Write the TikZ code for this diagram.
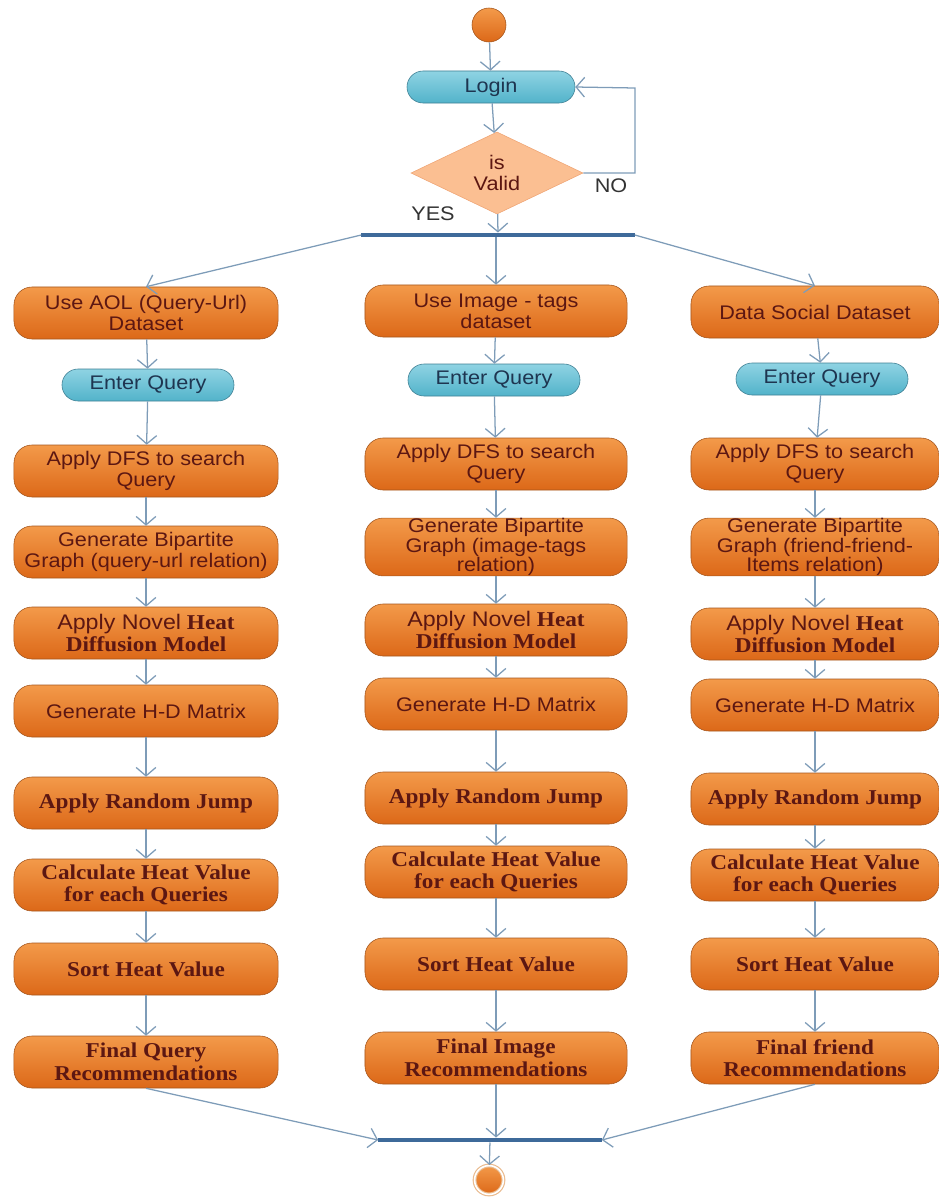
\documentclass[tikz,border=0pt]{standalone}
\usepackage{fontspec}
\setmainfont[FakeStretch=1.1]{Liberation Serif}
\setsansfont[FakeStretch=1.1]{Liberation Sans}
\usepackage{xcolor}
\usetikzlibrary{shapes.geometric, arrows.meta}

\definecolor{orgtop}{HTML}{F39A4A}
\definecolor{orgbot}{HTML}{DC6818}
\definecolor{orgline}{HTML}{A4561E}
\definecolor{orgtext}{HTML}{5C1712}
\definecolor{blutop}{HTML}{8FD3E3}
\definecolor{blubot}{HTML}{52B3CA}
\definecolor{bluline}{HTML}{3F7F93}
\definecolor{blutext}{HTML}{1E3550}
\definecolor{decfill}{HTML}{FBBF92}
\definecolor{decline}{HTML}{EFA575}
\definecolor{flow}{HTML}{7E9CB8}
\definecolor{barcol}{HTML}{3E6A9A}
\definecolor{ringcol}{HTML}{E9B98C}

\newcommand{\sansf}{\sffamily\fontsize{14}{15}\selectfont}
\newcommand{\serf}{\rmfamily\bfseries\fontsize{15}{16}\selectfont}

\begin{document}
\begin{tikzpicture}[x=0.025cm, y=-0.025cm, ->, >={Straight Barb[length=6pt, width=14pt]},
    every edge/.style={draw=flow, line width=0.9pt},
    act/.style={rounded corners=0.45cm, draw=orgline, top color=orgtop, bottom color=orgbot, minimum height=1.3cm, align=center, text=orgtext, font=\sansf, inner sep=1pt},
    acts/.style={act, font=\serf},
    act3/.style={act, font=\sffamily\fontsize{14}{12.5}\selectfont, inner ysep=0pt},
    inp/.style={rounded corners=0.4cm, draw=bluline, top color=blutop, bottom color=blubot, minimum width=4.3cm, minimum height=0.8cm, text=blutext, font=\sansf},
    dec/.style={diamond, draw=decline, fill=decfill, minimum width=4.3cm, minimum height=1.93cm, inner sep=0pt, align=center, text=orgtext, font=\sansf},
    bar/.style={rectangle, fill=barcol, minimum height=0.11cm, inner sep=0pt},
    tag/.style={font=\sansf, text=black!80}]
    \useasboundingbox (0,0) rectangle (939,1198);

    % top part
    \node[circle, draw=orgline, top color=orgtop, bottom color=orgbot, minimum size=0.85cm, inner sep=0pt] (start) at (489,25) {};
    \node[inp, minimum width=4.2cm] (login) at (491,87) {Login};
    \node[dec] (valid) at (497,173) {is\\Valid};
    \node[tag] (no) at (611,186) {NO};
    \node[tag] (yes) at (433,214) {YES};
    \node[bar, minimum width=6.825cm] (fork) at (498,235) {};
    \coordinate (nobend) at (635,88);

    % query column
    \begin{scope}[every node/.append style={minimum width=6.6cm}]
    \node[act] (aol) at (146,313) {Use AOL (Query-Url)\\Dataset};
    \node[inp] (eq1) at (148,385) {Enter Query};
    \node[act] (dfs1) at (146,471) {Apply DFS to search\\Query};
    \node[act] (bip1) at (146,552) {Generate Bipartite\\Graph (query-url relation)};
    \node[acts] (heat1) at (146,633) {{\sffamily\mdseries Apply Novel} Heat\\Diffusion Model};
    \node[act] (hd1) at (146,711) {Generate H-D Matrix};
    \node[acts] (jump1) at (146,803) {Apply Random Jump};
    \node[acts] (calc1) at (146,885) {Calculate Heat Value\\for each Queries};
    \node[acts] (sort1) at (146,969) {Sort Heat Value};
    \node[acts] (fin1) at (146,1062) {Final Query\\Recommendations};
    \end{scope}

    % image column
    \begin{scope}[every node/.append style={minimum width=6.55cm}]
    \node[act] (img) at (496,311) {Use Image - tags\\dataset};
    \node[inp] (eq2) at (494,380) {Enter Query};
    \node[act] (dfs2) at (496,464) {Apply DFS to search\\Query};
    \node[act3] (bip2) at (496,547) {Generate Bipartite\\Graph (image-tags\\relation)};
    \node[acts] (heat2) at (496,630) {{\sffamily\mdseries Apply Novel} Heat\\Diffusion Model};
    \node[act] (hd2) at (496,704) {Generate H-D Matrix};
    \node[acts] (jump2) at (496,798) {Apply Random Jump};
    \node[acts] (calc2) at (496,872) {Calculate Heat Value\\for each Queries};
    \node[acts] (sort2) at (496,964) {Sort Heat Value};
    \node[acts] (fin2) at (496,1058) {Final Image\\Recommendations};
    \end{scope}

    % social column
    \begin{scope}[every node/.append style={minimum width=6.2cm}]
    \node[act] (soc) at (815,312) {Data Social Dataset};
    \node[inp] (eq3) at (822,379) {Enter Query};
    \node[act] (dfs3) at (815,464) {Apply DFS to search\\Query};
    \node[act3] (bip3) at (815,547) {Generate Bipartite\\Graph (friend-friend-\\Items relation)};
    \node[acts] (heat3) at (815,634) {{\sffamily\mdseries Apply Novel} Heat\\Diffusion Model};
    \node[act] (hd3) at (815,705) {Generate H-D Matrix};
    \node[acts] (jump3) at (815,799) {Apply Random Jump};
    \node[acts] (calc3) at (815,875) {Calculate Heat Value\\for each Queries};
    \node[acts] (sort3) at (815,964) {Sort Heat Value};
    \node[acts] (fin3) at (815,1058) {Final friend\\Recommendations};
    \end{scope}

    % bottom part
    \node[bar, minimum width=5.575cm] (join) at (490,1140) {};
    \node[circle, draw=ringcol, double=white, double distance=1.2pt, line width=0.8pt, top color=orgtop, bottom color=orgbot, minimum size=0.72cm, inner sep=0pt] (end) at (489,1180) {};

    \path (start) edge (login)
          (login) edge (valid)
          (valid) edge (fork)
          (fork.west) edge (aol.north)
          (img.north |- fork.south) edge (img.north)
          (fork.east) edge (soc.north);
    \draw[draw=flow, line width=0.9pt] (valid.east) -| (nobend) -- (login.east);

    \path (aol) edge (eq1)
          (eq1) edge (dfs1)
          (dfs1) edge (bip1)
          (bip1) edge (heat1)
          (heat1) edge (hd1)
          (hd1) edge (jump1)
          (jump1) edge (calc1)
          (calc1) edge (sort1)
          (sort1) edge (fin1)
          (fin1.south) edge (join.west);

    \path (img) edge (eq2)
          (eq2) edge (dfs2)
          (dfs2) edge (bip2)
          (bip2) edge (heat2)
          (heat2) edge (hd2)
          (hd2) edge (jump2)
          (jump2) edge (calc2)
          (calc2) edge (sort2)
          (sort2) edge (fin2)
          (fin2.south) edge (fin2.south |- join.north);

    \path (soc) edge (eq3)
          (eq3) edge (dfs3)
          (dfs3) edge (bip3)
          (bip3) edge (heat3)
          (heat3) edge (hd3)
          (hd3) edge (jump3)
          (jump3) edge (calc3)
          (calc3) edge (sort3)
          (sort3) edge (fin3)
          (fin3.south) edge (join.east)
          (join) edge (end);
\end{tikzpicture}
\end{document}
